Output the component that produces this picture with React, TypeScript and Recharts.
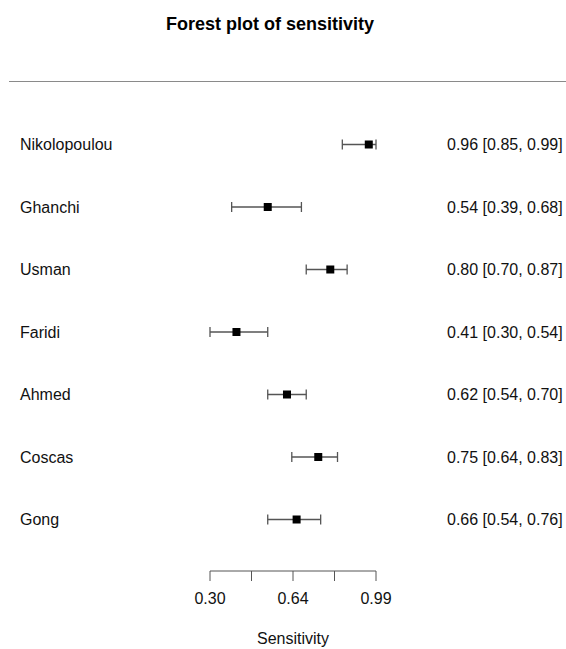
import React from "react";
import {
  ScatterChart,
  Scatter,
  XAxis,
  YAxis,
  ErrorBar,
} from "recharts";

// study rows, top to bottom
const studies = ["Nikolopoulou", "Ghanchi", "Usman", "Faridi", "Ahmed", "Coscas", "Gong"];
const estimates = [0.96, 0.54, 0.8, 0.41, 0.62, 0.75, 0.66];
const lower = [0.85, 0.39, 0.7, 0.3, 0.54, 0.64, 0.54];
const upper = [0.99, 0.68, 0.87, 0.54, 0.7, 0.83, 0.76];

const xTicks = [0.3, 0.4725, 0.645, 0.8175, 0.99];
const xTickLabels = ["0.30", "", "0.64", "", "0.99"];

const FONT = '"Liberation Sans", Arial, Helvetica, sans-serif';

const n = studies.length;
const chartData = studies.map((name, i) => ({
  name,
  row: n - 1 - i,
  est: estimates[i],
  err: [estimates[i] - lower[i], upper[i] - estimates[i]],
  text: `${estimates[i].toFixed(2)} [${lower[i].toFixed(2)}, ${upper[i].toFixed(2)}]`,
}));
const rowTicks = chartData.map((d) => d.row);

const byRow = (row: number) => chartData.find((d) => d.row === row);

const StudyTick = (props: any) => {
  const d = byRow(props.payload.value);
  return (
    <text x={20} y={props.y} dy="0.35em" fontSize={16} fill="#111" fontFamily={FONT}>
      {d ? d.name : ""}
    </text>
  );
};

const EstimateTick = (props: any) => {
  const d = byRow(props.payload.value);
  return (
    <text x={447} y={props.y} dy="0.35em" fontSize={16} fill="#111" fontFamily={FONT}>
      {d ? d.text : ""}
    </text>
  );
};

const Square = (props: any) => (
  <rect x={props.cx - 4} y={props.cy - 4} width={8} height={8} fill="#000" />
);

export default function App() {
  return (
    <div style={{ position: "absolute", left: 0, top: 0, width: 566, height: 649, background: "#fff" }}>
      <div
        style={{
          position: "absolute",
          left: 0,
          top: 15,
          width: 540,
          textAlign: "center",
          fontFamily: FONT,
          fontWeight: "bold",
          fontSize: 18,
          lineHeight: "18px",
          color: "#000",
        }}
      >
        Forest plot of sensitivity
      </div>
      <div
        style={{
          position: "absolute",
          left: 9,
          top: 81,
          width: 557,
          borderTop: "1.5px solid #8a8a8a",
        }}
      />
      <div style={{ position: "absolute", left: 0, top: 0 }}>
        <ScatterChart
          width={566}
          height={649}
          margin={{ top: 82, right: 0, left: 0, bottom: 0 }}
        >
          <XAxis
            type="number"
            dataKey="est"
            domain={[0.3, 0.99]}
            ticks={xTicks}
            allowDataOverflow
            tickFormatter={(v: number) => xTickLabels[xTicks.indexOf(v)] ?? ""}
            height={78}
            tickSize={10}
            tickMargin={12}
            stroke="#555"
            tick={{ fill: "#111", fontSize: 16, fontFamily: FONT }}
            label={{
              value: "Sensitivity",
              position: "insideBottom",
              offset: 5,
              fill: "#111",
              fontSize: 16,
              fontFamily: FONT,
            }}
          />
          <YAxis
            yAxisId="left"
            type="number"
            dataKey="row"
            domain={[-0.824, 7]}
            ticks={rowTicks}
            allowDataOverflow
            width={210}
            axisLine={false}
            tickLine={false}
            tick={<StudyTick />}
          />
          <YAxis
            yAxisId="right"
            orientation="right"
            type="number"
            dataKey="row"
            domain={[-0.824, 7]}
            ticks={rowTicks}
            allowDataOverflow
            width={190}
            axisLine={false}
            tickLine={false}
            tick={<EstimateTick />}
          />
          <Scatter
            yAxisId="left"
            data={chartData}
            shape={<Square />}
            isAnimationActive={false}
          >
            <ErrorBar
              dataKey="err"
              direction="x"
              width={5}
              stroke="#555"
              strokeWidth={1.3}
              isAnimationActive={false}
            />
          </Scatter>
        </ScatterChart>
      </div>
    </div>
  );
}
